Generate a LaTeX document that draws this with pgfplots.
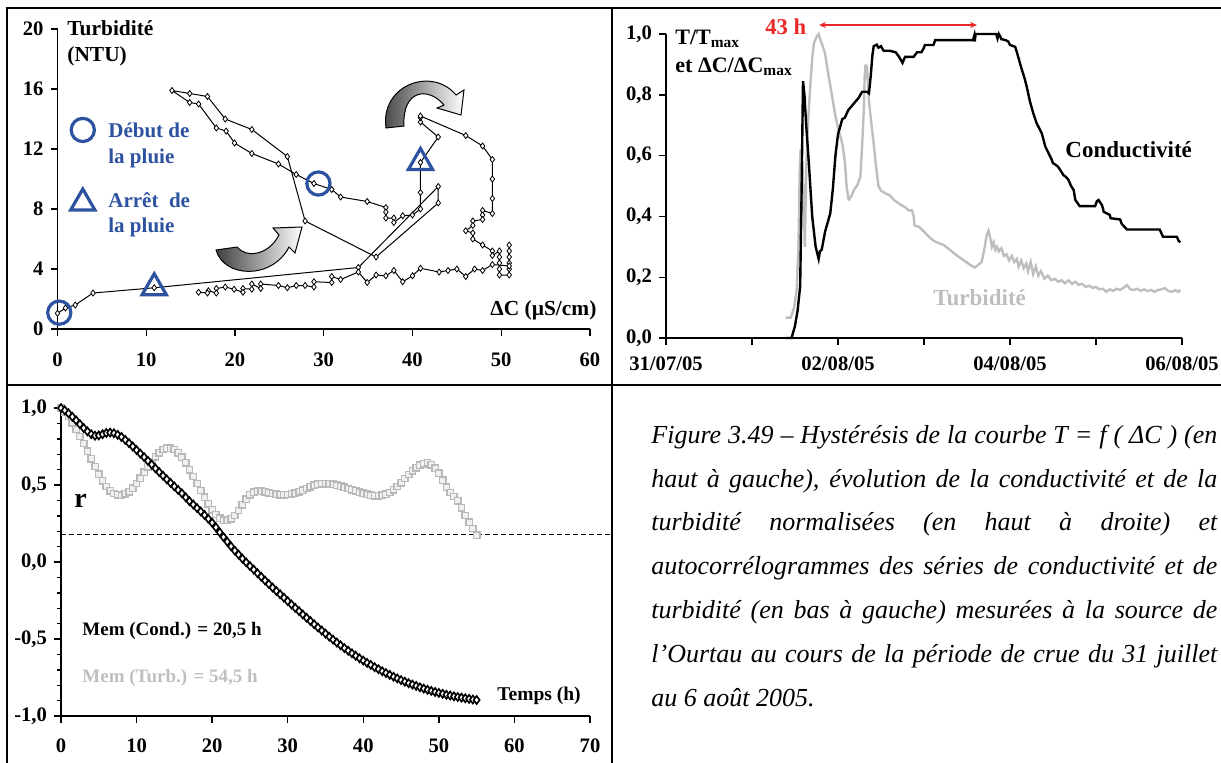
\documentclass[border=0pt]{standalone}
\usepackage{pgfplots}
\pgfplotsset{compat=1.18}
\usetikzlibrary{arrows.meta}
\usepackage{fontspec}
\setmainfont{Liberation Serif}
\definecolor{bleu}{RGB}{44,82,160}
\definecolor{gristurb}{RGB}{190,190,190}
\definecolor{rouge}{RGB}{235,40,40}
\pgfplotsset{
  myaxis/.style={
    scale only axis, anchor=south west,
    axis x line*=bottom, axis y line*=left,
    tick align=outside,
    axis line style={line width=0.7pt},
    tick style={black, line width=0.7pt},
    major tick length=3.5pt,
    minor tick length=2pt,
    tick label style={font=\fontsize{10.3}{12}\selectfont\bfseries},
    /pgf/number format/assume math mode=true,
    clip=false,
  },
  comma1/.style={/pgf/number format/fixed, /pgf/number format/fixed zerofill, /pgf/number format/precision=1, /pgf/number format/use comma},
}
\begin{document}
\begin{tikzpicture}
% ---------------- Panel 1 : hysteresis ----------------
\begin{axis}[myaxis, at={(28.75pt,-164.5pt)}, width=266.25pt, height=150pt,
  xmin=0, xmax=60, ymin=0, ymax=20, xtick={0,10,...,60}, ytick={0,4,...,20},
  xticklabel shift=5pt]
\addplot[black, line width=0.5pt, mark=diamond*, mark size=1.5pt, mark options={fill=white, draw=black, line width=0.4pt}] coordinates {
(0,1.05) (0.9,1.4) (2,1.6) (4,2.4) (10.9,2.75) (33.9,4.1) (42.9,9.5) (42.9,8.4) (35.9,4.8) (27.9,7.2)
(25.9,11.5) (21.9,13.3) (18.9,14.0) (16.9,15.5) (14.9,15.7) (12.9,15.9) (14.9,15.1) (15.9,15.0) (17.9,13.4) (19.0,13.2)
(19.95,12.4) (21.9,11.7) (24.9,11.0) (26.9,10.3) (28.9,9.7) (30.9,9.3) (31.9,8.8) (34.9,8.5) (37,8.1) (37,7.8)
(37,7.4) (37.9,7.4) (37.9,7.1) (38.9,7.55) (40,7.6) (40.9,8.0) (40.9,9.1) (40.9,11.1) (42.9,12.8) (40.9,13.8)
(40.9,14.1) (40.9,14.2) (46,12.9) (47.9,12.2) (49,11.3) (49,10.0) (49,8.7) (49,7.7) (47.9,7.9) (47.9,7.6)
(47.9,7.3) (46.8,7.2) (46.8,6.9) (46,6.55) (46.8,6.4) (46.8,6.0) (47.9,5.6) (49,5.2) (49,4.9) (49.8,5.2)
(49.8,4.8) (49.8,4.4) (49.8,4.0) (49.8,3.6) (50.9,3.6) (50.9,4.0) (50.9,4.4) (50.9,4.8) (50.9,5.2) (50.9,5.6)
(50.9,4.2) (49,4.3) (47.9,3.9) (47,4.0) (46,3.5) (45,4.0) (44,3.9) (43,3.8) (40.9,4.05) (40,3.55)
(38.9,3.15) (37.9,3.9) (37,3.55) (35.9,3.6) (34.9,3.1) (33.9,3.8) (31.9,3.3) (30.9,3.5) (30.9,3.1) (28.9,3.15)
(28.9,2.8) (27.9,2.9) (26.9,2.9) (25.9,2.75) (24.9,2.9) (22.9,3.0) (22.9,2.7) (21.9,3.0) (21.9,2.65) (20.9,2.7)
(20.9,2.45) (19.9,2.65) (18.9,2.8) (17.9,2.7) (17.9,2.4) (17.0,2.55) (16.9,2.4) (15.9,2.45)
};
\addplot[only marks, mark=o, mark size=5.8pt, mark options={draw=bleu, line width=1.6pt}] coordinates {(0.2,1.09) (29.4,9.7) (2.85,13.27)};
\addplot[only marks, mark=triangle, mark size=7pt, mark options={draw=bleu, line width=1.6pt}] coordinates {(10.9,2.75) (40.9,11.1) (2.85,8.4)};
\end{axis}
% ---------------- Panel 2 : time series ----------------
\begin{axis}[myaxis, at={(333pt,-169pt)}, width=258pt, height=152pt,
  xmin=0, xmax=6, ymin=0, ymax=1, xtick={0,1,2,3,4,5,6},
  xticklabels={31/07/05,,02/08/05,,04/08/05,,06/08/05}, xticklabel shift=2.5pt,
  ytick={0,0.2,0.4,0.6,0.8,1}, yticklabel style={comma1}]
\addplot[gristurb, line width=1.2pt] coordinates {
(1.39,0.067) (1.45,0.067) (1.49,0.10) (1.52,0.16) (1.54,0.30) (1.555,0.55) (1.565,0.62) (1.575,0.40) (1.585,0.58) (1.60,0.45)
(1.615,0.30) (1.63,0.55) (1.65,0.70) (1.68,0.84) (1.70,0.92) (1.72,0.97) (1.75,0.99) (1.775,1.0) (1.79,0.985) (1.81,0.97)
(1.85,0.936) (1.88,0.88) (1.91,0.83) (1.94,0.78) (1.97,0.73) (2.01,0.68) (2.05,0.64) (2.08,0.58) (2.10,0.50) (2.12,0.46)
(2.13,0.456) (2.16,0.47) (2.19,0.49) (2.22,0.50) (2.26,0.53) (2.28,0.63) (2.30,0.75) (2.31,0.86) (2.32,0.90) (2.33,0.87)
(2.34,0.88) (2.36,0.78) (2.39,0.70) (2.415,0.64) (2.44,0.57) (2.47,0.50) (2.50,0.485) (2.55,0.476) (2.60,0.47) (2.65,0.454)
(2.72,0.44) (2.78,0.43) (2.82,0.42) (2.86,0.42) (2.88,0.40) (2.89,0.37) (2.94,0.366) (3.00,0.35) (3.05,0.335) (3.11,0.32)
(3.17,0.312) (3.23,0.306) (3.30,0.29) (3.38,0.272) (3.46,0.256) (3.54,0.24) (3.59,0.232) (3.63,0.24) (3.67,0.25) (3.70,0.29)
(3.73,0.34) (3.75,0.353) (3.77,0.33) (3.79,0.30) (3.81,0.315) (3.83,0.29) (3.85,0.30) (3.87,0.285) (3.90,0.295) (3.93,0.27)
(3.96,0.275) (3.99,0.255) (4.02,0.27) (4.05,0.25) (4.08,0.26) (4.10,0.235) (4.13,0.255) (4.16,0.23) (4.19,0.245) (4.21,0.22)
(4.24,0.25) (4.27,0.21) (4.30,0.235) (4.33,0.205) (4.36,0.22) (4.40,0.195) (4.44,0.205) (4.48,0.19) (4.52,0.195) (4.56,0.185)
(4.60,0.19) (4.64,0.18) (4.68,0.19) (4.72,0.178) (4.76,0.185) (4.80,0.175) (4.84,0.178) (4.88,0.168) (4.92,0.172) (4.96,0.165)
(5.00,0.168) (5.04,0.16) (5.08,0.162) (5.12,0.152) (5.16,0.16) (5.20,0.155) (5.24,0.162) (5.28,0.158) (5.32,0.165) (5.36,0.174)
(5.40,0.16) (5.44,0.158) (5.48,0.162) (5.52,0.155) (5.56,0.16) (5.60,0.154) (5.64,0.158) (5.68,0.152) (5.72,0.158) (5.76,0.16)
(5.80,0.164) (5.84,0.155) (5.88,0.152) (5.92,0.157) (5.96,0.152) (5.98,0.158)
};
\addplot[black, line width=1.2pt] coordinates {
(1.39,0.0) (1.46,0.0) (1.50,0.04) (1.53,0.09) (1.56,0.17) (1.575,0.45) (1.593,0.845) (1.61,0.80) (1.63,0.70) (1.66,0.58)
(1.70,0.40) (1.74,0.30) (1.775,0.26) (1.79,0.285) (1.81,0.29) (1.85,0.35) (1.88,0.38) (1.91,0.41) (1.94,0.49) (1.97,0.60)
(2.00,0.67) (2.05,0.72) (2.08,0.725) (2.12,0.75) (2.18,0.77) (2.24,0.79) (2.28,0.81) (2.34,0.81) (2.36,0.805) (2.38,0.86)
(2.40,0.93) (2.415,0.96) (2.45,0.965) (2.47,0.955) (2.50,0.96) (2.53,0.945) (2.60,0.945) (2.67,0.94) (2.71,0.925) (2.74,0.91)
(2.75,0.905) (2.78,0.925) (2.88,0.925) (2.92,0.94) (2.97,0.94) (3.00,0.955) (3.01,0.964) (3.11,0.964) (3.13,0.98) (3.57,0.98)
(3.585,0.995) (3.59,0.975) (3.60,1.0) (3.84,1.0) (3.855,0.985) (3.87,1.0) (3.89,0.99) (3.90,0.983) (3.95,0.98) (3.98,0.975)
(4.00,0.964) (4.06,0.958) (4.08,0.94) (4.10,0.92) (4.13,0.89) (4.17,0.854) (4.20,0.82) (4.23,0.78) (4.27,0.74) (4.31,0.706)
(4.34,0.69) (4.37,0.673) (4.41,0.63) (4.45,0.607) (4.48,0.59) (4.50,0.575) (4.53,0.57) (4.56,0.563) (4.59,0.55) (4.62,0.536)
(4.65,0.53) (4.68,0.52) (4.71,0.50) (4.74,0.487) (4.75,0.47) (4.76,0.454) (4.81,0.434) (4.99,0.434) (5.01,0.45) (5.03,0.454)
(5.05,0.445) (5.07,0.437) (5.09,0.415) (5.16,0.405) (5.17,0.394) (5.28,0.390) (5.30,0.375) (5.36,0.357) (5.74,0.357) (5.78,0.333)
(5.94,0.333) (5.96,0.32) (5.98,0.315)
};
\end{axis}
% ---------------- Panel 3 : autocorrelograms ----------------
\begin{axis}[myaxis, at={(30.5pt,-358pt)}, width=264.5pt, height=154pt,
  xmin=0, xmax=70, ymin=-1, ymax=1, xtick={0,10,...,70}, xticklabel shift=4.5pt,
  ytick={-1,-0.5,0,0.5,1}, minor y tick num=4, yticklabel style={comma1}]
\draw[black, dashed, dash pattern=on 2.5pt off 1.5pt, line width=0.5pt] (axis cs:0,0.18) -- (axis cs:72.9,0.18);
\addplot[gray!50, line width=1.4pt, mark=square*, mark size=1.6pt, mark options={fill=gray!12, draw=gray!55, line width=0.7pt}] coordinates {
(0,1.000) (0.5,0.975) (1,0.945) (1.5,0.905) (2,0.860) (2.5,0.815) (3,0.770) (3.5,0.720) (4,0.670) (4.5,0.620)
(5,0.570) (5.5,0.527) (6,0.490) (6.5,0.462) (7,0.445) (7.5,0.436) (8,0.435) (8.5,0.442) (9,0.456) (9.5,0.480)
(10,0.510) (10.5,0.545) (11,0.582) (11.5,0.618) (12,0.652) (12.5,0.683) (13,0.710) (13.5,0.730) (14,0.740) (14.5,0.740)
(15,0.730) (15.5,0.710) (16,0.680) (16.5,0.643) (17,0.600) (17.5,0.555) (18,0.510) (18.5,0.465) (19,0.420) (19.5,0.378)
(20,0.340) (20.5,0.308) (21,0.285) (21.5,0.272) (22,0.270) (22.5,0.280) (23,0.302) (23.5,0.335) (24,0.372) (24.5,0.408)
(25,0.437) (25.5,0.454) (26,0.460) (26.5,0.459) (27,0.455) (27.5,0.450) (28,0.445) (28.5,0.440) (29,0.437) (29.5,0.436)
(30,0.438) (30.5,0.442) (31,0.448) (31.5,0.456) (32,0.466) (32.5,0.477) (33,0.488) (33.5,0.498) (34,0.505) (34.5,0.509)
(35,0.510) (35.5,0.508) (36,0.504) (36.5,0.499) (37,0.493) (37.5,0.486) (38,0.478) (38.5,0.470) (39,0.462) (39.5,0.454)
(40,0.447) (40.5,0.440) (41,0.435) (41.5,0.431) (42,0.430) (42.5,0.433) (43,0.440) (43.5,0.452) (44,0.468) (44.5,0.490)
(45,0.515) (45.5,0.542) (46,0.568) (46.5,0.592) (47,0.612) (47.5,0.628) (48,0.639) (48.5,0.644) (49,0.632) (49.5,0.610)
(50,0.578) (50.5,0.532) (51,0.487) (51.5,0.452) (52,0.425) (52.5,0.398) (53,0.352) (53.5,0.302) (54,0.258) (54.5,0.218)
(55,0.175)
};
\addplot[black, line width=1.4pt, mark=diamond*, mark size=2pt, mark options={fill=white, draw=black, line width=0.8pt}] coordinates {
(0,1.000) (0.5,0.985) (1,0.965) (1.5,0.943) (2,0.920) (2.5,0.895) (3,0.870) (3.5,0.848) (4,0.830) (4.5,0.820)
(5,0.822) (5.5,0.830) (6,0.838) (6.5,0.840) (7,0.836) (7.5,0.826) (8,0.812) (8.5,0.793) (9,0.772) (9.5,0.750)
(10,0.727) (10.5,0.704) (11,0.681) (11.5,0.657) (12,0.633) (12.5,0.608) (13,0.584) (13.5,0.560) (14,0.537) (14.5,0.514)
(15,0.491) (15.5,0.468) (16,0.446) (16.5,0.420) (17,0.395) (17.5,0.373) (18,0.350) (18.5,0.328) (19,0.305) (19.5,0.280)
(20,0.255) (20.5,0.225) (21,0.193) (21.5,0.162) (22,0.132) (22.5,0.102) (23,0.074) (23.5,0.048) (24,0.022) (24.5,-0.002)
(25,-0.026) (25.5,-0.049) (26,-0.073) (26.5,-0.096) (27,-0.120) (27.5,-0.143) (28,-0.166) (28.5,-0.188) (29,-0.210) (29.5,-0.232)
(30,-0.254) (30.5,-0.276) (31,-0.298) (31.5,-0.319) (32,-0.341) (32.5,-0.362) (33,-0.383) (33.5,-0.404) (34,-0.425) (34.5,-0.445)
(35,-0.465) (35.5,-0.485) (36,-0.504) (36.5,-0.523) (37,-0.541) (37.5,-0.559) (38,-0.576) (38.5,-0.593) (39,-0.609) (39.5,-0.625)
(40,-0.640) (40.5,-0.655) (41,-0.669) (41.5,-0.683) (42,-0.696) (42.5,-0.709) (43,-0.721) (43.5,-0.733) (44,-0.745) (44.5,-0.756)
(45,-0.767) (45.5,-0.777) (46,-0.787) (46.5,-0.796) (47,-0.805) (47.5,-0.814) (48,-0.822) (48.5,-0.830) (49,-0.837) (49.5,-0.844)
(50,-0.850) (50.5,-0.856) (51,-0.862) (51.5,-0.867) (52,-0.872) (52.5,-0.877) (53,-0.881) (53.5,-0.885) (54,-0.889) (54.5,-0.893)
(55,-0.896)
};
\end{axis}
% ---------------- decorations in pixel units ----------------
\begin{scope}[x=0.5pt, y=-0.5pt]
\draw[line width=1.35pt] (7,8) -- (1230,8);
\draw[line width=1.35pt] (7,7.3) -- (7,770);
\draw[line width=1.2pt] (612,8) -- (612,770);
\draw[line width=1.2pt] (7,385) -- (1230,385);
% curved arrows
\draw[line width=0.5pt, left color=black!75, right color=white]
  (216,250) .. controls (224,278) and (272,280) .. (289,247) -- (295,253) -- (302,227) -- (273,228) -- (279,235) .. controls (268,256) and (246,258) .. (237,247) -- cycle;
\draw[line width=0.5pt, left color=black!75, right color=white]
  (386,128) .. controls (380,85) and (432,66) .. (456,95) -- (464,90) -- (461,115) -- (437,108) -- (444,105) .. controls (428,86) and (402,90) .. (404,126) -- cycle;
% panel 1 texts
\node[anchor=base west, inner sep=0, font=\fontsize{10.7}{12}\selectfont\bfseries] at (67,35) {Turbidité};
\node[anchor=base west, inner sep=0, font=\fontsize{10.7}{12}\selectfont\bfseries] at (67,61) {(NTU)};
\node[anchor=base west, inner sep=0, font=\fontsize{10.7}{12}\selectfont\bfseries] at (490,315) {ΔC (µS/cm)};
\node[anchor=base west, inner sep=0, text=bleu, font=\fontsize{10.5}{12}\selectfont\bfseries] at (108,137) {Début de};
\node[anchor=base west, inner sep=0, text=bleu, font=\fontsize{10.5}{12}\selectfont\bfseries] at (108,163) {la pluie};
\node[anchor=base west, inner sep=0, text=bleu, font=\fontsize{10.5}{12}\selectfont\bfseries] at (108,207) {Arrêt\ \ de};
\node[anchor=base west, inner sep=0, text=bleu, font=\fontsize{10.5}{12}\selectfont\bfseries] at (108,232) {la pluie};
% panel 2 texts
\node[anchor=base west, inner sep=0, font=\fontsize{11}{12}\selectfont\bfseries] at (675,44) {T/T\textsubscript{max}};
\node[anchor=base west, inner sep=0, font=\fontsize{11}{12}\selectfont\bfseries] at (675,72) {et ΔC/ΔC\textsubscript{max}};
\node[anchor=base west, inner sep=0, text=rouge, font=\fontsize{11.3}{12}\selectfont\bfseries] at (765,34) {43 h};
\draw[rouge, line width=0.6pt, <->, >={Stealth[length=3.5pt,width=3pt]}] (819,25) -- (977,25);
\node[anchor=base west, inner sep=0, font=\fontsize{11.5}{12}\selectfont\bfseries] at (1065,157) {Conductivité};
\node[anchor=base west, inner sep=0, text=gristurb, font=\fontsize{11.5}{12}\selectfont\bfseries] at (933,305) {Turbidité};
% panel 3 texts
\node[anchor=base west, inner sep=0, font=\fontsize{14}{14}\selectfont\bfseries] at (74,507) {r};
\node[anchor=base west, inner sep=0, font=\fontsize{9.5}{12}\selectfont\bfseries] at (82,635) {Mem (Cond.) = 20,5 h};
\node[anchor=base west, inner sep=0, text=gristurb, font=\fontsize{9.5}{12}\selectfont\bfseries] at (82,682) {Mem (Turb.) = 54,5 h};
\node[anchor=base west, inner sep=0, font=\fontsize{9.75}{12}\selectfont\bfseries] at (497,700) {Temps (h)};
% caption
\node[anchor=base west, inner sep=0, align=left, font=\fontsize{13}{21.9}\selectfont\itshape] at (651,706) {%
\makebox[283pt][s]{Figure 3.49 – Hystérésis de la courbe T = f ( ΔC ) (en}\\
\makebox[283pt][s]{haut à gauche), évolution de la conductivité et de la}\\
\makebox[283pt][s]{turbidité normalisées (en haut à droite) et}\\
\makebox[283pt][s]{autocorrélogrammes des séries de conductivité et de}\\
\makebox[283pt][s]{turbidité (en bas à gauche) mesurées à la source de}\\
\makebox[283pt][s]{l’Ourtau au cours de la période de crue du 31 juillet}\\
au 6 août 2005.};
\end{scope}
\pgfresetboundingbox
\path[use as bounding box] (0,0) rectangle (610.5pt,-381pt);
\end{tikzpicture}
\end{document}
